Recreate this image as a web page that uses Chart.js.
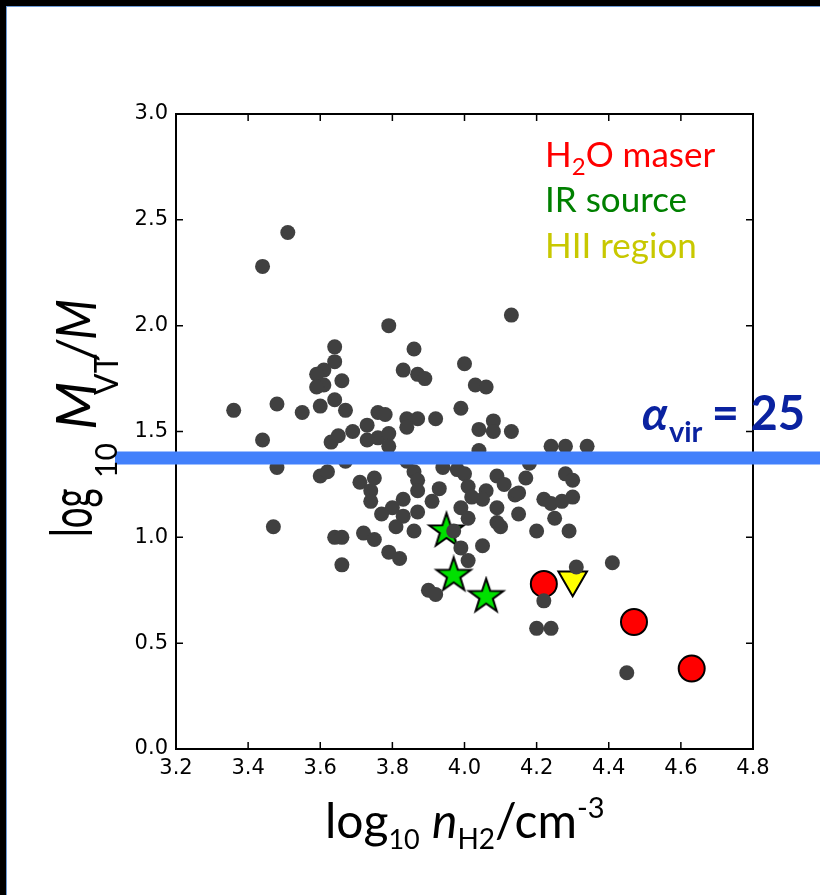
<!DOCTYPE html>
<html lang="en">
<head>
<meta charset="UTF-8">
<title>Virial mass ratio vs density</title>
<script src="https://cdn.jsdelivr.net/npm/chart.js"></script>
<style>
  html, body { margin: 0; padding: 0; background: #000; }
  #frame {
    position: absolute; left: 6px; top: 6px; width: 814px; height: 889px;
    background: #fff; border-left: 1px solid #6d9bd6; border-top: 1px solid #6d9bd6;
    box-sizing: border-box;
  }
  #chart { position: absolute; left: 0; top: 0; }
</style>
</head>
<body>
<div id="frame"></div>
<canvas id="chart" width="820" height="895"></canvas>
<script>
// clumps: log10 n_H2 vs log10 M_VT/M
const clumpX = [3.44,3.51,3.79,4.13,3.64,3.86,3.64,4.00,3.61,3.83,3.59,3.87,3.89,3.66,3.61,3.59,4.03,4.06,
  3.36,3.48,3.55,3.60,3.64,3.67,3.76,3.78,3.99,3.84,3.87,3.84,3.92,4.08,4.04,4.08,4.13,4.24,4.28,4.34,
  3.44,3.63,3.65,3.69,3.73,3.76,3.79,3.79,3.73,4.04,3.48,3.60,3.62,3.67,3.71,3.75,3.74,3.74,3.86,3.87,
  3.87,3.93,3.91,3.83,3.80,3.77,3.83,3.87,3.81,3.86,3.47,3.64,3.66,3.72,3.75,3.79,3.82,3.66,3.90,3.92,
  3.94,3.98,4.00,4.01,4.09,4.11,4.17,4.28,4.30,4.06,4.05,4.02,4.14,4.15,4.22,4.24,4.27,4.30,4.09,4.15,
  4.25,3.99,4.01,4.09,4.10,4.20,4.29,4.05,3.99,4.01,4.31,4.41,4.22,4.20,4.24,4.45,4.18,3.84,3.97];
const clumpY = [2.28,2.44,2.00,2.05,1.90,1.89,1.83,1.82,1.79,1.79,1.77,1.77,1.75,1.74,1.72,1.71,1.72,1.71,
  1.60,1.63,1.59,1.62,1.65,1.60,1.59,1.58,1.61,1.56,1.56,1.52,1.56,1.55,1.51,1.50,1.50,1.43,1.43,1.43,
  1.46,1.45,1.48,1.50,1.53,1.47,1.49,1.43,1.46,1.41,1.33,1.29,1.31,1.36,1.26,1.28,1.22,1.17,1.31,1.27,
  1.22,1.23,1.17,1.18,1.14,1.11,1.10,1.12,1.05,1.03,1.05,1.00,1.00,1.02,0.99,0.93,0.90,0.87,0.75,0.73,
  1.33,1.32,1.30,1.24,1.29,1.25,1.28,1.30,1.27,1.22,1.18,1.19,1.20,1.21,1.18,1.16,1.17,1.19,1.14,1.11,
  1.09,1.14,1.09,1.07,1.05,1.03,1.03,0.96,0.95,0.89,0.86,0.88,0.70,0.57,0.57,0.36,1.35,1.36,1.03];

const maserX = [4.22, 4.47, 4.63];
const maserY = [0.78, 0.60, 0.38];
const irX = [3.95, 3.97, 4.06];
const irY = [1.03, 0.82, 0.72];
const hiiX = [4.30];
const hiiY = [0.80];

const xMin = 3.2, xMax = 4.8, xStep = 0.2;
const yMin = 0.0, yMax = 3.0, yStep = 0.5;
const alphaVirLine = 1.375; // alpha_vir = 25

function pts(xs, ys) {
  return xs.map((x, i) => ({ x: x, y: ys[i] }));
}

function makeStar(r, fill) {
  const c = document.createElement('canvas');
  const s = Math.ceil(r * 2 + 6);
  c.width = s; c.height = s;
  const g = c.getContext('2d');
  g.beginPath();
  for (let i = 0; i < 10; i++) {
    const rr = i % 2 === 0 ? r : r * 0.39;
    const a = -Math.PI / 2 + i * Math.PI / 5;
    g.lineTo(s / 2 + rr * Math.cos(a), s / 2 + rr * Math.sin(a));
  }
  g.closePath();
  g.fillStyle = fill;
  g.fill();
  g.lineWidth = 2;
  g.strokeStyle = '#000';
  g.stroke();
  return c;
}

// draw a row of text pieces one after another (sub/superscripts via dy)
function drawRuns(ctx, x, y, parts) {
  let cx = x;
  parts.forEach(p => {
    ctx.font = p.f;
    ctx.fillStyle = p.c || '#000';
    ctx.fillText(p.t, cx + (p.dx || 0), y + (p.dy || 0));
    cx += ctx.measureText(p.t).width + (p.dx || 0);
  });
}

// one piece of text at (u, v), optionally stretched
function piece(ctx, t, f, u, v, su, sv) {
  ctx.save();
  ctx.translate(u, v);
  ctx.scale(su || 1, sv || 1);
  ctx.font = f;
  ctx.fillText(t, 0, 0);
  ctx.restore();
}

const overlay = {
  id: 'overlay',
  afterDraw(chart) {
    const ctx = chart.ctx;
    const a = chart.chartArea;
    const xs = chart.scales.x, ys = chart.scales.y;
    ctx.save();
    // frame + inward ticks on all four sides
    ctx.strokeStyle = '#000';
    ctx.lineWidth = 2;
    ctx.strokeRect(a.left, a.top, a.right - a.left, a.bottom - a.top);
    ctx.lineWidth = 1.5;
    ctx.beginPath();
    xs.ticks.forEach(t => {
      const px = xs.getPixelForValue(t.value);
      ctx.moveTo(px, a.bottom); ctx.lineTo(px, a.bottom - 7);
      ctx.moveTo(px, a.top); ctx.lineTo(px, a.top + 7);
    });
    ys.ticks.forEach(t => {
      const py = ys.getPixelForValue(t.value);
      ctx.moveTo(a.left, py); ctx.lineTo(a.left + 7, py);
      ctx.moveTo(a.right, py); ctx.lineTo(a.right - 7, py);
    });
    ctx.stroke();

    // alpha_vir line, runs past the axes
    const ly = ys.getPixelForValue(alphaVirLine);
    ctx.strokeStyle = '#4280fb';
    ctx.lineWidth = 13;
    ctx.beginPath();
    ctx.moveTo(a.left - 61, ly);
    ctx.lineTo(chart.width, ly);
    ctx.stroke();

    ctx.textBaseline = 'alphabetic';
    ctx.textAlign = 'left';
    const blue = '#0a22a0';
    drawRuns(ctx, 642, 430, [
      { t: 'α', f: 'italic bold 46px Lato', c: blue },
      { t: 'vir', f: 'bold 29px Lato', c: blue, dy: 12, dx: 1 },
      { t: ' = 25', f: 'bold 47px Lato', c: blue, dx: -2 }
    ]);

    // legend text
    drawRuns(ctx, 545, 167, [
      { t: 'H', f: '35px Lato', c: '#ff0000' },
      { t: '2', f: '24px Lato', c: '#ff0000', dy: 8 },
      { t: 'O maser', f: '35px Lato', c: '#ff0000' }
    ]);
    drawRuns(ctx, 545, 212, [{ t: 'IR source', f: '35px Lato', c: '#008000' }]);
    drawRuns(ctx, 545, 258, [{ t: 'HII region', f: '35px Lato', c: '#c8c800' }]);

    // x axis title
    drawRuns(ctx, 325, 838, [
      { t: 'log', f: '48px Lato' },
      { t: '10', f: '27px Lato', dy: 11 },
      { t: ' ', f: '48px Lato' },
      { t: 'n', f: 'italic 48px Lato' },
      { t: 'H2', f: '28px Lato', dy: 11 },
      { t: '/cm', f: '48px Lato' },
      { t: '-3', f: '29px Lato', dy: -20 }
    ]);

    // y axis title, rotated; u runs up the page, v to the right
    ctx.fillStyle = '#000';
    ctx.translate(92, 537);
    ctx.rotate(-Math.PI / 2);
    piece(ctx, 'log', '40px Lato', 0, 0, 0.92, 1.45);
    piece(ctx, '10', '30px Lato', 59, 25);
    piece(ctx, 'M', 'italic 56px Lato', 107, 4);
    piece(ctx, 'VT', '32px Lato', 142, 26);
    piece(ctx, '/M', 'italic 56px Lato', 177, 4, 0.85, 1);
    ctx.restore();
  }
};

const tickFont = { family: 'DejaVu Sans', size: 21 };

new Chart(document.getElementById('chart'), {
  type: 'scatter',
  data: {
    datasets: [
      {
        label: 'clumps',
        data: pts(clumpX, clumpY),
        backgroundColor: '#404040',
        borderWidth: 0,
        pointRadius: 7.5
      },
      {
        label: 'IR source',
        data: pts(irX, irY),
        pointStyle: makeStar(18, '#00e000'),
        pointRadius: 18
      },
      {
        label: 'H2O maser',
        data: pts(maserX, maserY),
        backgroundColor: '#ff0000',
        borderColor: '#000',
        borderWidth: 2,
        pointRadius: 13
      },
      {
        label: 'HII region',
        data: pts(hiiX, hiiY),
        pointStyle: 'triangle',
        rotation: 180,
        backgroundColor: '#ffff00',
        borderColor: '#000',
        borderWidth: 2,
        pointRadius: 16.5
      }
    ]
  },
  options: {
    responsive: false,
    animation: false,
    layout: { padding: { left: 0, top: 114, right: 67, bottom: 0 } },
    plugins: { legend: { display: false }, tooltip: { enabled: false } },
    scales: {
      x: {
        type: 'linear',
        min: xMin, max: xMax,
        afterFit: s => { s.height = 146; },
        grid: { display: false, drawTicks: false },
        border: { display: false },
        ticks: {
          stepSize: xStep, color: '#000', font: tickFont, padding: 7,
          maxRotation: 0, autoSkip: false,
          callback: v => v.toFixed(1)
        }
      },
      y: {
        type: 'linear',
        min: yMin, max: yMax,
        afterFit: s => { s.width = 176; },
        grid: { display: false, drawTicks: false },
        border: { display: false },
        ticks: {
          stepSize: yStep, color: '#000', font: tickFont, padding: 8,
          callback: v => v.toFixed(1)
        }
      }
    }
  },
  plugins: [overlay]
});
</script>
</body>
</html>
